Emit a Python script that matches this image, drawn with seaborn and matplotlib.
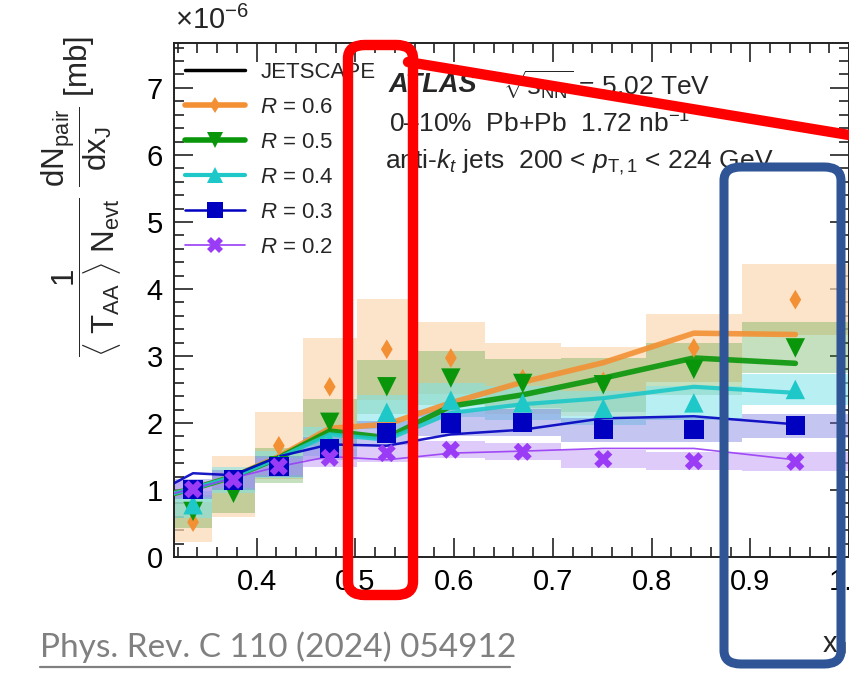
import numpy as np
import pandas as pd
import matplotlib.pyplot as plt
import seaborn as sns
from matplotlib.lines import Line2D
from matplotlib.patches import FancyBboxPatch
from matplotlib.ticker import MultipleLocator

# ── Data ──────────────────────────────────────────────────────────────────────
edges = [0.3162, 0.3548, 0.3981, 0.4467, 0.5012, 0.5623, 0.6310, 0.7079, 0.7943, 0.8913, 1.0]

r06     = [0.52, 1.05, 1.66, 2.54, 3.10, 2.97, 2.66, 2.62, 3.12, 3.84]
r06_sys = [0.30, 0.45, 0.50, 0.73, 0.75, 0.54, 0.53, 0.52, 0.51, 0.53]
r05     = [0.68, 0.95, 1.36, 2.01, 2.54, 2.67, 2.59, 2.57, 2.80, 3.12]
r05_sys = [0.25, 0.30, 0.26, 0.35, 0.40, 0.40, 0.36, 0.40, 0.39, 0.38]
r04     = [0.78, 1.15, 1.38, 1.72, 2.16, 2.34, 2.30, 2.22, 2.30, 2.50]
r04_sys = [0.20, 0.20, 0.20, 0.22, 0.25, 0.25, 0.25, 0.25, 0.25, 0.23]
r03     = [1.01, 1.15, 1.35, 1.62, 1.85, 2.00, 2.01, 1.90, 1.90, 1.96]
r03_sys = [0.15, 0.15, 0.15, 0.17, 0.18, 0.20, 0.20, 0.18, 0.18, 0.18]
r02     = [1.01, 1.15, 1.35, 1.48, 1.55, 1.60, 1.57, 1.46, 1.43, 1.42]
r02_sys = [0.12, 0.12, 0.12, 0.13, 0.13, 0.13, 0.13, 0.13, 0.13, 0.14]

# JETSCAPE curves: first value at the left edge, then at each bin centre
js06 = [0.95, 1.02, 1.20, 1.50, 1.92, 1.98, 2.30, 2.61, 2.90, 3.34, 3.32]
js05 = [0.95, 1.02, 1.20, 1.48, 1.88, 1.78, 2.25, 2.42, 2.67, 2.97, 2.89]
js04 = [0.95, 1.02, 1.20, 1.48, 1.83, 1.75, 2.15, 2.28, 2.37, 2.54, 2.45]
js03 = [1.10, 1.25, 1.22, 1.50, 1.68, 1.66, 1.83, 1.90, 2.07, 2.10, 1.98]
js02 = [0.95, 1.02, 1.18, 1.35, 1.50, 1.45, 1.55, 1.58, 1.62, 1.62, 1.45]

radii = ["0.6", "0.5", "0.4", "0.3", "0.2"]

# ── Styling ───────────────────────────────────────────────────────────────────
sns.set_style("ticks")
plt.rcParams["font.family"] = ["Liberation Sans", "DejaVu Sans"]
plt.rcParams["mathtext.fontset"] = "custom"
plt.rcParams["mathtext.rm"] = "Liberation Sans"
plt.rcParams["mathtext.it"] = "Liberation Sans:italic"
plt.rcParams["mathtext.bf"] = "Liberation Sans:bold"

series = [
    dict(y=r06, sys=r06_sys, js=js06, c="#F39034", box="#FCD9B6", ba=0.7, m="d", ms=10, lw=4.0),
    dict(y=r05, sys=r05_sys, js=js05, c="#0A960A", box="#3E9A2A", ba=0.30, m="v", ms=14, lw=4.0),
    dict(y=r04, sys=r04_sys, js=js04, c="#1EC8C8", box="#7FE3EA", ba=0.55, m="^", ms=14, lw=3.0),
    dict(y=r03, sys=r03_sys, js=js03, c="#0000C0", box="#6C70DC", ba=0.40, m="s", ms=14, lw=1.8),
    dict(y=r02, sys=r02_sys, js=js02, c="#9A3CF5", box="#B98CF2", ba=0.45, m="X", ms=13, lw=1.2),
]

edges_a = np.array(edges)
centers = 0.5 * (edges_a[:-1] + edges_a[1:])
widths = np.diff(edges_a)
js_x = np.concatenate([[edges_a[0]], centers])

fig = plt.figure(figsize=(8.49, 6.75), dpi=100)
ax = fig.add_axes([174 / 849, 118 / 675, 675 / 849, 514 / 675])

# systematic boxes
for s in series:
    y = np.array(s["y"])
    e = np.array(s["sys"])
    ax.bar(edges_a[:-1], 2 * e, width=widths, bottom=y - e, align="edge",
           color=s["box"], alpha=s["ba"], linewidth=0, zorder=1)

# JETSCAPE curves
for s in series:
    df = pd.DataFrame({"x": js_x, "y": s["js"]})
    sns.lineplot(data=df, x="x", y="y", ax=ax, color=s["c"], lw=s["lw"],
                 alpha=0.9, zorder=3, legend=False)

# data points
for s in series:
    df = pd.DataFrame({"x": centers, "y": s["y"]})
    sns.scatterplot(data=df, x="x", y="y", ax=ax, marker=s["m"], s=s["ms"] ** 2,
                    color=s["c"], edgecolor="none", linewidth=0, zorder=4, legend=False)

ax.set_xlim(edges_a[0], 1.0)
ax.set_ylim(0, 7.67)
ax.set_xlabel("")
ax.set_ylabel("")
ax.xaxis.set_major_locator(MultipleLocator(0.1))
ax.xaxis.set_minor_locator(MultipleLocator(0.02))
ax.yaxis.set_major_locator(MultipleLocator(1))
ax.yaxis.set_minor_locator(MultipleLocator(0.2))
ax.tick_params(which="both", direction="in", top=True, right=True, width=1.2, colors="#222222")
ax.tick_params(which="major", length=14, labelsize=21, pad=8, labelcolor="black")
ax.tick_params(which="minor", length=7)
for sp in ax.spines.values():
    sp.set_linewidth(1.4)
    sp.set_color("#222222")

# legend
handles = [Line2D([], [], color="black", lw=2.5)]
for s in series:
    handles.append(Line2D([], [], color=s["c"], lw=s["lw"], marker=s["m"],
                          markersize=s["ms"] * 0.85, markeredgewidth=0))
leg_labels = ["JETSCAPE"] + [f"$R$ = {r}" for r in radii]
ax.legend(handles, leg_labels, loc="upper left", bbox_to_anchor=(-0.012, 1.0),
          frameon=False, fontsize=16, handlelength=2.7, handletextpad=0.7,
          labelspacing=0.63, borderaxespad=0.45)

# ATLAS labels
ax.text(0.318, 0.918, "ATLAS", transform=ax.transAxes, fontsize=19.5,
        fontweight="bold", fontstyle="italic", va="center")
ax.text(0.487, 0.918, r"$\sqrt{s_{\rm NN}}$ = 5.02 TeV", transform=ax.transAxes,
        fontsize=19, va="center")
ax.text(0.318, 0.842, r"0–10%  Pb+Pb  1.72 nb$^{-1}$", transform=ax.transAxes,
        fontsize=19, va="center")
ax.text(0.312, 0.768, r"anti-$k_{t}$ jets  200 < $p_{\rm T,1}$ < 224 GeV",
        transform=ax.transAxes, fontsize=19, va="center")

# axis titles
fig.text(175 / 849, 1 - 20 / 675, r"$\times10^{-6}$", fontsize=21, va="center", ha="left")
fig.text(82 / 849, 1 - 196 / 675,
         r"$\dfrac{1}{\langle\ \rm T_{AA}\ \rangle\ N_{evt}}\ \dfrac{dN_{pair}}{dx_{J}}$ [mb]",
         rotation=90, fontsize=22.5, va="center", ha="center")
fig.text(822 / 849, 1 - 645 / 675, r"$\rm x_{J}$", fontsize=21, va="center", ha="left")

# reference line
fig.text(40 / 849, 1 - 647 / 675, "Phys. Rev. C 110 (2024) 054912", fontsize=24,
         color="#808080", family=["Lato", "DejaVu Sans"], va="center", ha="left")
fig.add_artist(Line2D([40 / 849, 510 / 849], [1 - 667 / 675, 1 - 667 / 675],
                      color="#808080", lw=1.6, transform=fig.transFigure))

# highlight boxes and pointer line
def px_box(x0, y0, x1, y1, color, lw):
    w, h = (x1 - x0) / 849, (y1 - y0) / 675
    p = FancyBboxPatch((x0 / 849, 1 - y1 / 675), w, h, transform=fig.transFigure,
                       boxstyle="round,pad=0,rounding_size=0.02", fill=False,
                       edgecolor=color, linewidth=lw, zorder=10)
    fig.add_artist(p)

px_box(348, 45, 413, 595, "#FF0000", 7.5)
px_box(724, 167, 841, 664, "#2F5597", 6.5)
fig.add_artist(Line2D([408 / 849, 849 / 849], [1 - 62 / 675, 1 - 135 / 675],
                      color="#FF0000", lw=7.5, transform=fig.transFigure, zorder=10))

fig.savefig("out.png", dpi=100)
